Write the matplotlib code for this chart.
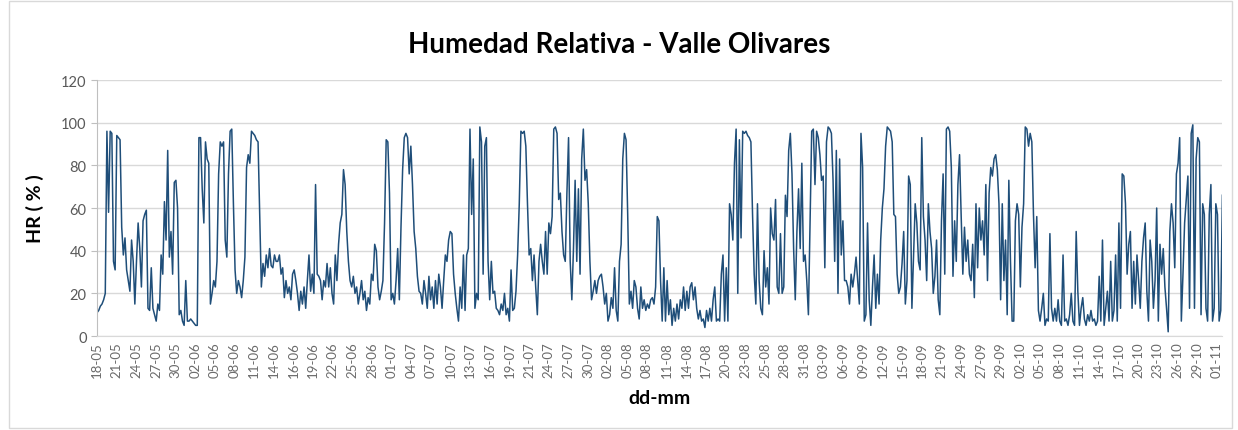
import matplotlib
matplotlib.use("Agg")
import matplotlib.pyplot as plt
from matplotlib.patches import Rectangle
import numpy as np

plt.rcParams["font.family"] = ["Lato", "DejaVu Sans"]

# HR (%), por tramos (18-05 -> 01-11)
hr_may_jun = [11, 12, 14, 15, 17, 20, 96, 58, 96, 95,
              35, 31, 94, 93, 92, 51, 38, 46, 31, 26,
              21, 45, 35, 15, 35, 53, 41, 23, 54, 57,
              59, 13, 12, 32, 13, 10, 7, 15, 12, 38,
              29, 63, 45, 87, 37, 49, 29, 72, 73, 60,
              10, 12, 7, 5, 26, 7, 7, 8, 7, 6,
              5, 5, 93, 93, 69, 53, 91, 83, 81, 15,
              20, 26, 23, 35, 76, 91, 89, 91, 45, 37,
              76, 96, 97, 62, 31, 20, 26, 23, 18, 26,
              37, 79, 85, 81, 96, 95, 94, 92, 91, 57,
              23, 34, 28, 38, 32, 41, 33, 32, 38, 35]
hr_jun_jul = [35, 38, 29, 32, 18, 26, 20, 23, 17, 29,
              31, 26, 20, 12, 21, 15, 23, 13, 26, 38,
              21, 29, 20, 71, 29, 28, 26, 17, 26, 23,
              34, 23, 32, 20, 15, 38, 26, 43, 53, 57,
              78, 71, 49, 35, 26, 23, 28, 20, 23, 15,
              20, 26, 17, 21, 12, 18, 15, 29, 26, 43,
              40, 23, 17, 21, 26, 53, 92, 91, 67, 17,
              20, 15, 26, 41, 17, 51, 78, 93, 95, 93,
              76, 89, 71, 49, 41, 28, 21, 20, 15, 26,
              20, 13, 28, 17, 23, 13, 26, 15, 29, 23,
              13, 26, 38, 35, 45, 49, 48, 29, 20, 13,
              7, 23, 13, 38]
hr_jul_ago = [12, 38, 41, 97, 57, 83, 13, 20, 17, 98,
              91, 29, 89, 93, 35, 17, 35, 20, 21, 13,
              12, 10, 15, 12, 20, 10, 13, 7, 31, 12,
              13, 21, 38, 62, 96, 95, 96, 89, 62, 38,
              41, 26, 38, 23, 10, 35, 43, 35, 29, 49,
              29, 53, 48, 56, 97, 98, 95, 64, 67, 49,
              38, 35, 67, 93, 35, 17, 41, 73, 35, 69,
              29, 83, 97, 73, 78, 62, 35, 17, 21, 26,
              20, 26, 28, 29, 23, 15, 20, 7, 10, 18,
              13, 32, 12, 7, 35, 43, 83, 95, 92, 57,
              15, 21, 13, 26, 23, 13, 8, 23, 13, 17,
              12, 15, 13, 17, 18]
hr_ago_sep = [15, 23, 56, 54, 26, 7, 32, 7, 26, 10,
              17, 5, 13, 7, 15, 8, 17, 13, 23, 12,
              21, 13, 23, 25, 17, 23, 13, 8, 12, 7,
              8, 4, 12, 7, 13, 7, 17, 23, 7, 8,
              7, 29, 38, 7, 32, 7, 62, 57, 45, 81,
              97, 20, 92, 46, 96, 95, 96, 94, 93, 91,
              57, 29, 15, 62, 26, 13, 10, 40, 23, 32,
              15, 60, 48, 45, 64, 23, 20, 48, 20, 23,
              66, 56, 87, 95, 76, 41, 17, 49, 69, 41,
              81, 35, 38, 26, 10, 54, 96, 97, 71, 96,
              93, 85, 73, 75, 32, 91, 98, 97, 95, 73,
              35, 87, 20, 83, 38, 54, 26]
hr_sep_oct = [26, 23, 15, 29, 23, 29, 37, 26, 15, 95,
              79, 7, 10, 53, 17, 5, 23, 38, 13, 29,
              15, 45, 60, 69, 89, 98, 97, 96, 91, 57,
              56, 29, 20, 23, 34, 49, 15, 26, 75, 71,
              13, 38, 62, 53, 35, 31, 93, 56, 45, 26,
              62, 49, 41, 20, 28, 45, 17, 10, 54, 76,
              29, 97, 98, 96, 79, 28, 54, 35, 71, 85,
              56, 29, 51, 35, 45, 29, 26, 43, 18, 62,
              32, 60, 45, 54, 38, 71, 26, 67, 79, 75,
              83, 85, 78, 62, 17, 62, 26, 45, 10, 73,
              35, 7, 7, 54, 62, 57, 23, 51, 62, 98,
              97, 89, 95, 91]
hr_oct_nov = [57, 32, 56, 12, 7, 13, 20, 5, 8, 7,
              48, 13, 7, 13, 7, 17, 7, 5, 38, 7,
              8, 5, 10, 20, 7, 5, 49, 21, 5, 13,
              18, 8, 5, 10, 7, 12, 7, 8, 5, 7,
              28, 7, 45, 5, 13, 21, 7, 35, 7, 12,
              38, 7, 53, 13, 76, 75, 62, 29, 43, 49,
              13, 35, 15, 38, 26, 13, 35, 46, 53, 21,
              7, 45, 35, 13, 26, 60, 7, 43, 29, 41,
              23, 13, 2, 49, 62, 53, 32, 76, 81, 93,
              7, 29, 53, 64, 75, 13, 95, 99, 13, 83,
              93, 91, 10, 62, 57, 13, 7, 57, 71, 7,
              13, 62, 57, 7, 12, 66]

fechas = ["18-05", "21-05", "24-05", "27-05", "30-05", "02-06", "05-06", "08-06",
          "11-06", "14-06", "16-06", "19-06", "22-06", "25-06", "28-06", "01-07",
          "04-07", "07-07", "10-07", "13-07", "16-07", "19-07", "21-07", "24-07",
          "27-07", "30-07", "02-08", "05-08", "08-08", "11-08", "14-08", "17-08",
          "20-08", "23-08", "25-08", "28-08", "31-08", "03-09", "06-09", "09-09",
          "12-09", "15-09", "18-09", "21-09", "24-09", "27-09", "29-09", "02-10",
          "05-10", "08-10", "11-10", "14-10", "17-10", "20-10", "23-10", "26-10",
          "29-10", "01-11"]

hr = np.array(hr_may_jun + hr_jun_jul + hr_jul_ago + hr_ago_sep + hr_sep_oct + hr_oct_nov, dtype=float)
x = np.arange(len(hr))

fig = plt.figure(figsize=(12.38, 4.31), dpi=100)
fig.patches.append(Rectangle((0.007, 0.005), 0.988, 0.99, transform=fig.transFigure,
                             fill=False, edgecolor="#d9d9d9", linewidth=1))
ax = fig.add_axes([0.0784, 0.218, 0.909, 0.594])

ax.plot(x, hr, color="#1f4e79", linewidth=1.1)

ax.set_xlim(0, len(hr) - 1)
ax.set_ylim(0, 120)
ax.set_yticks(np.arange(0, 121, 20))
ax.yaxis.grid(True, color="#d9d9d9", linewidth=1)
ax.set_axisbelow(True)

pos = np.linspace(0, (len(hr) - 1) * 0.995, len(fechas))
ax.set_xticks(pos)
ax.set_xticklabels(fechas, rotation=90, fontsize=9.5, color="#6b6b6b")
ax.tick_params(axis="y", labelsize=10.5, labelcolor="#595959", color="#bfbfbf", length=4)
ax.tick_params(axis="x", color="#bfbfbf", length=0, pad=4)

for s in ["top", "right"]:
    ax.spines[s].set_visible(False)
ax.spines["left"].set_color("#bfbfbf")
ax.spines["bottom"].set_color("#d9d9d9")

ax.set_ylabel("HR ( % )", fontsize=14, fontweight="bold", labelpad=12)
ax.set_xlabel("dd-mm", fontsize=14, fontweight="bold", labelpad=8)
fig.suptitle("Humedad Relativa - Valle Olivares", fontsize=20, fontweight="bold", y=0.925)

fig.savefig("out.png", dpi=100)
